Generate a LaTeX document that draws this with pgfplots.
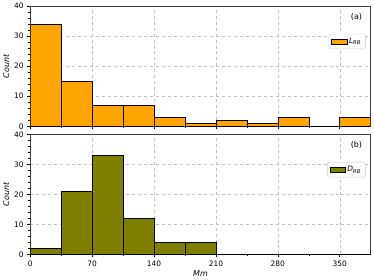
\documentclass[border=0pt]{standalone}
\usepackage{pgfplots}
\pgfplotsset{compat=1.18}
\usepackage{fontspec}
\setmainfont{DejaVu Sans}
\definecolor{cOrange}{HTML}{FFA500}
\definecolor{cOlive}{HTML}{808000}
\begin{document}
\begin{tikzpicture}
\pgfplotsset{
  every axis/.style={
    width=340bp, height=120bp, scale only axis,
    xmin=0, xmax=385, ymin=0, ymax=40,
    xtick={0,70,140,210,280,350},
    minor xtick={35,105,175,245,315},
    ytick={0,10,20,30,40},
    minor y tick num=4,
    xtick pos=bottom, ytick pos=left,
    tick align=outside,
    major tick length=3bp, minor tick length=1.8bp,
    tick style={black, line width=0.5pt},
    grid=major,
    major grid style={dashed, gray!50, line width=0.4pt},
    axis line style={black!75, line width=0.6pt},
    tick label style={font=\fontsize{7.5}{9}\selectfont},
    label style={font=\fontsize{8}{9}\selectfont\itshape},
    /pgf/number format/assume math mode=true,
    ylabel={Count},
    ylabel style={yshift=-2bp},
    legend style={at={(0.985,0.77)}, anchor=north east, draw=black!20, rounded corners=1.5pt,
      font=\fontsize{7.5}{9}\selectfont\itshape, inner xsep=2.5pt, inner ysep=2pt},
    legend image code/.code={\draw[#1, rounded corners=0pt] (0bp,-2.5bp) rectangle (15bp,2.5bp);},
  }
}
\begin{axis}[at={(0,0)}, xticklabels={}]
\addplot[ybar interval, fill=cOrange, draw=black, line width=0.5pt] coordinates {
(0,34) (35,15) (70,7) (105,7) (140,3) (175,1) (210,2) (245,1) (280,3) (315,0) (350,3) (385,3)};
\addlegendentry{L\textsubscript{RB}}
\node[anchor=north east, font=\fontsize{8}{9}\selectfont] at (rel axis cs:0.985,0.97) {(a)};
\end{axis}
\begin{axis}[at={(0,-128bp)}, xlabel={Mm}, xlabel style={yshift=3bp}]
\addplot[ybar interval, fill=cOlive, draw=black, line width=0.5pt] coordinates {
(0,2) (35,21) (70,33) (105,12) (140,4) (175,4) (210,0) (245,0) (280,0) (315,0) (350,0) (385,0)};
\addlegendentry{D\textsubscript{RB}}
\node[anchor=north east, font=\fontsize{8}{9}\selectfont] at (rel axis cs:0.985,0.97) {(b)};
\end{axis}
\path (current bounding box.north east) ++(3bp,0) coordinate (pad);
\path (pad) -- (current bounding box.south east);
\end{tikzpicture}
\end{document}
